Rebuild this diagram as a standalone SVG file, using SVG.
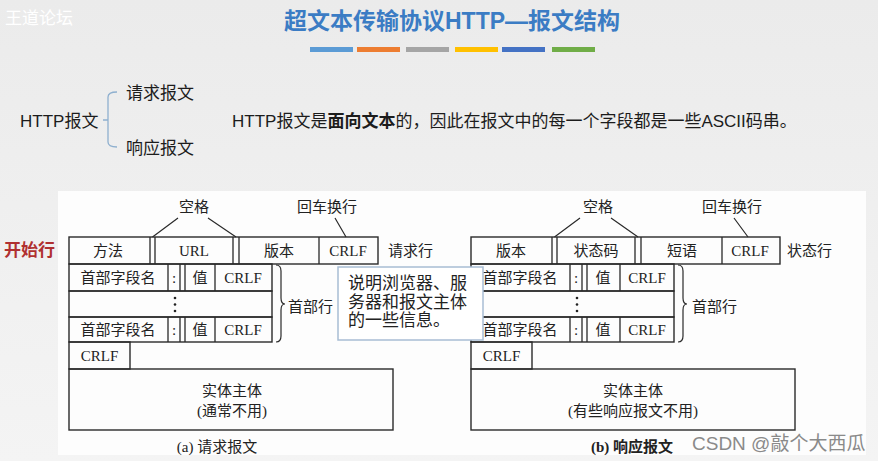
<svg xmlns="http://www.w3.org/2000/svg" width="878" height="461" viewBox="0 0 878 461">
<defs>
<linearGradient id="bg" x1="0" y1="0" x2="0" y2="1">
<stop offset="0" stop-color="#ebebeb"/>
<stop offset="1" stop-color="#f4f4f4"/>
</linearGradient>
<style>
.s{font-family:"Liberation Sans","Noto Sans CJK SC",sans-serif;font-size:17px;fill:#1c1c1c}
.d{font-family:"Liberation Serif","Noto Sans CJK SC",serif;font-size:15px;fill:#222;text-anchor:middle}
.dl{font-family:"Liberation Serif","Noto Sans CJK SC",serif;font-size:15px;fill:#222}
.box{fill:none;stroke:#2a2a2a;stroke-width:1.4}
.ln{stroke:#2a2a2a;stroke-width:1.3;fill:none}
.lead{stroke:#2a2a2a;stroke-width:1.2;fill:none}
.brace{stroke:#2a2a2a;stroke-width:1.2;fill:none}
.dot{fill:#222}
</style>
</defs>
<rect width="878" height="461" fill="url(#bg)"/>
<rect x="58" y="191" width="808" height="264" fill="#fdfdfd"/>

<g id="watermark-top"><text x="5" y="24" class="s" style="fill:#ffffff">王道论坛</text></g>

<g id="title">
<text x="452" y="29" style="font-family:'Liberation Sans','Noto Sans CJK SC',sans-serif;font-size:23px;font-weight:bold;fill:#3b7cc4;text-anchor:middle">超文本传输协议HTTP—报文结构</text>
<rect x="310" y="47" width="43" height="5" fill="#5b9bd5"/>
<rect x="357" y="47" width="43" height="5" fill="#ed7d31"/>
<rect x="406" y="47" width="43" height="5" fill="#a5a5a5"/>
<rect x="455" y="47" width="43" height="5" fill="#ffc000"/>
<rect x="502" y="47" width="43" height="5" fill="#4472c4"/>
<rect x="552" y="47" width="43" height="5" fill="#70ad47"/>
</g>

<g id="http-types">
<text x="20" y="127" class="s">HTTP报文</text>
<path d="M117,92 Q108,92 108,97 V142 Q108,147 117,147 M108,120 H103" fill="none" stroke="#8fb0cf" stroke-width="1.3"/>
<text x="126" y="99" class="s">请求报文</text>
<text x="126" y="154" class="s">响应报文</text>
<text x="232" y="127" class="s">HTTP报文是<tspan font-weight="bold">面向文本</tspan>的，因此在报文中的每一个字段都是一些ASCII码串。</text>
</g>

<g id="start-line-label"><text x="4" y="256" class="s" style="fill:#b03030;font-weight:bold">开始行</text></g>

<g id="request">
<rect x="69" y="237" width="309" height="27" class="box"/>
<path class="ln" d="M150,237V264M155,237V264M233,237V264M239,237V264M319,237V264"/>
<text x="108" y="256" class="d">方法</text>
<text x="194" y="256" class="d">URL</text>
<text x="279" y="256" class="d">版本</text>
<text x="348" y="256" class="d">CRLF</text>
<text x="388" y="256" class="dl">请求行</text>
<rect x="69" y="264" width="203" height="27" class="box"/>
<rect x="69" y="291" width="203" height="26" class="box"/>
<rect x="69" y="317" width="203" height="25" class="box"/>
<path class="ln" d="M168,264V291M180,264V291M185,264V291M215,264V291M168,317V342M180,317V342M185,317V342M215,317V342"/>
<text x="118" y="283" class="d">首部字段名</text>
<text x="174" y="283" class="d">:</text>
<text x="200" y="283" class="d">值</text>
<text x="243" y="283" class="d">CRLF</text>
<circle cx="175" cy="298" r="1.3" class="dot"/><circle cx="175" cy="304.5" r="1.3" class="dot"/><circle cx="175" cy="311" r="1.3" class="dot"/>
<text x="118" y="335" class="d">首部字段名</text>
<text x="174" y="335" class="d">:</text>
<text x="200" y="335" class="d">值</text>
<text x="243" y="335" class="d">CRLF</text>
<text x="288" y="312" class="dl">首部行</text>
<rect x="69" y="342" width="61" height="27" class="box"/>
<text x="99.5" y="361" class="d">CRLF</text>
<rect x="69" y="369" width="324" height="61" class="box"/>
<text x="232" y="396" class="d">实体主体</text>
<text x="232" y="416" class="d">(通常不用)</text>
<text x="217" y="452" class="d">(a) 请求报文</text>
<text x="194" y="212" class="d">空格</text>
<text x="327" y="212" class="d">回车换行</text>
</g>

<g id="response">
<rect x="471" y="237" width="309" height="27" class="box"/>
<path class="ln" d="M552,237V264M557,237V264M635,237V264M641,237V264M722,237V264"/>
<text x="511" y="256" class="d">版本</text>
<text x="596" y="256" class="d">状态码</text>
<text x="682" y="256" class="d">短语</text>
<text x="750" y="256" class="d">CRLF</text>
<text x="787" y="256" class="dl">状态行</text>
<rect x="471" y="264" width="203" height="27" class="box"/>
<rect x="471" y="291" width="203" height="26" class="box"/>
<rect x="471" y="317" width="203" height="25" class="box"/>
<path class="ln" d="M570,264V291M582,264V291M587,264V291M620,264V291M570,317V342M582,317V342M587,317V342M620,317V342"/>
<text x="520" y="283" class="d">首部字段名</text>
<text x="576" y="283" class="d">:</text>
<text x="603" y="283" class="d">值</text>
<text x="647" y="283" class="d">CRLF</text>
<circle cx="577" cy="298" r="1.3" class="dot"/><circle cx="577" cy="304.5" r="1.3" class="dot"/><circle cx="577" cy="311" r="1.3" class="dot"/>
<text x="520" y="335" class="d">首部字段名</text>
<text x="576" y="335" class="d">:</text>
<text x="603" y="335" class="d">值</text>
<text x="647" y="335" class="d">CRLF</text>
<text x="692" y="312" class="dl">首部行</text>
<rect x="471" y="342" width="61" height="27" class="box"/>
<text x="501.5" y="361" class="d">CRLF</text>
<rect x="471" y="369" width="324" height="61" class="box"/>
<text x="633" y="396" class="d">实体主体</text>
<text x="633" y="416" class="d">(有些响应报文不用)</text>
<text x="632" y="452" class="d" font-weight="bold">(b) 响应报文</text>
<text x="598" y="212" class="d">空格</text>
<text x="732" y="212" class="d">回车换行</text>
</g>

<g id="connectors">
<path class="lead" d="M178,218L152.5,237M208,218L236,237M335,218L346,237"/>
<path class="lead" d="M580,218L554.5,237M611,218L638,237M734,218L748,237"/>
<path class="brace" d="M276,265Q281,265 281,271V298Q281,304 285,304Q281,304 281,310V336Q281,342 276,342"/>
<path class="brace" d="M678,265Q683,265 683,271V298Q683,304 687,304Q683,304 683,310V336Q683,342 678,342"/>
</g>

<g id="callout">
<rect x="338" y="267" width="145" height="73" fill="#ffffff" stroke="#a8bdd4" stroke-width="1.5"/>
<text x="348" y="289" class="dl" style="font-size:17px">说明浏览器、服</text>
<text x="348" y="308" class="dl" style="font-size:17px">务器和报文主体</text>
<text x="348" y="326" class="dl" style="font-size:17px">的一些信息。</text>
</g>

<g id="watermark-csdn"><text x="692" y="450" style="font-family:'Liberation Sans','Noto Sans CJK SC',sans-serif;font-size:19px;fill:#8a8a8a">CSDN @敲个大西瓜</text></g>
</svg>
